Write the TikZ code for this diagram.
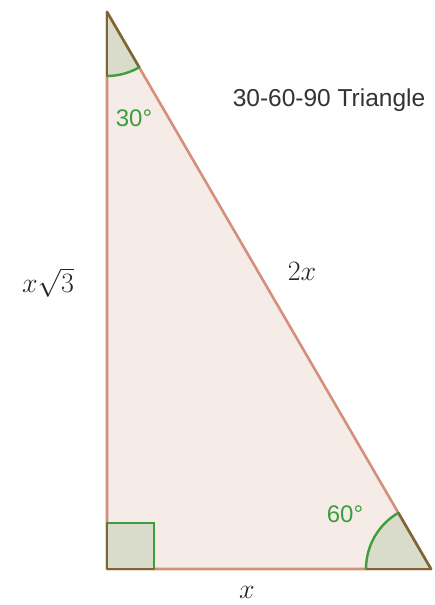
\RequirePackage{fix-cm}
\documentclass[tikz,border=0pt]{standalone}
\usepackage{fontspec}
\newfontfamily\labelsans{Liberation Sans}
\definecolor{trifill}{HTML}{F5EBE7}
\definecolor{triedge}{HTML}{D4907A}
\definecolor{angfill}{HTML}{D9DBCB}
\definecolor{angedge}{HTML}{7E6534}
\definecolor{arcgreen}{HTML}{3E9E3E}
\definecolor{titlegrey}{HTML}{333333}
\tikzset{
  edge/.style={draw=triedge, line width=2.6pt, line cap=round, line join=round},
  angleleg/.style={draw=angedge, line width=2.6pt, line cap=round},
  anglearc/.style={draw=arcgreen, line width=2.4pt},
  anglabel/.style={text=arcgreen, font=\labelsans\fontsize{24}{28}\selectfont, anchor=base, inner sep=0pt},
  mathlabel/.style={text=black!85, font=\fontsize{28}{32}\selectfont, anchor=base, inner sep=0pt},
}
\begin{document}
\begin{tikzpicture}[x=1pt,y=1pt]
\useasboundingbox (0,0) rectangle (435,605);
\coordinate (A) at (107,593);
\coordinate (B) at (107,36);
\coordinate (C) at (431,36);
% triangle fill
\fill[trifill] (A) -- (B) -- (C) -- cycle;
% edges
\draw[edge] (A) -- (B) -- (C) -- cycle;
% top angle (30 deg)
\fill[angfill] (A) -- ++(270:64) arc[start angle=270, end angle=300.2, radius=64] -- cycle;
\draw[angleleg] (A) -- ++(270:64);
\draw[angleleg] (A) -- ++(300.2:64);
\draw[anglearc] (A) ++(270:64) arc[start angle=270, end angle=300.2, radius=64];
% bottom right angle (60 deg)
\fill[angfill] (C) -- ++(180:65) arc[start angle=180, end angle=120.2, radius=65] -- cycle;
\draw[angleleg] (C) -- ++(180:65);
\draw[angleleg] (C) -- ++(120.2:65);
\draw[anglearc] (C) ++(180:65) arc[start angle=180, end angle=120.2, radius=65];
% right angle square
\coordinate (S1) at (154,36);
\coordinate (S2) at (154,82);
\coordinate (S3) at (107,82);
\fill[angfill] (B) -- (S1) -- (S2) -- (S3) -- cycle;
\draw[anglearc] (S1) -- (S2) -- (S3);
\draw[angleleg, line join=round] (S3) -- (B) -- (S1);
% labels
\node[anglabel] (a30) at (134,478) {30°};
\node[anglabel] (a60) at (345,82) {60°};
\node[anchor=base, inner sep=0pt, text=titlegrey, font=\labelsans\fontsize{24.5}{28}\selectfont] (title) at (329,498) {30-60-90 Triangle};
\node[mathlabel] (lv) at (48,312) {$x\sqrt{3}$};
\node[mathlabel] (lh) at (302,324) {$2x$};
\node[mathlabel] (lb) at (247,6) {$x$};
\end{tikzpicture}
\end{document}
